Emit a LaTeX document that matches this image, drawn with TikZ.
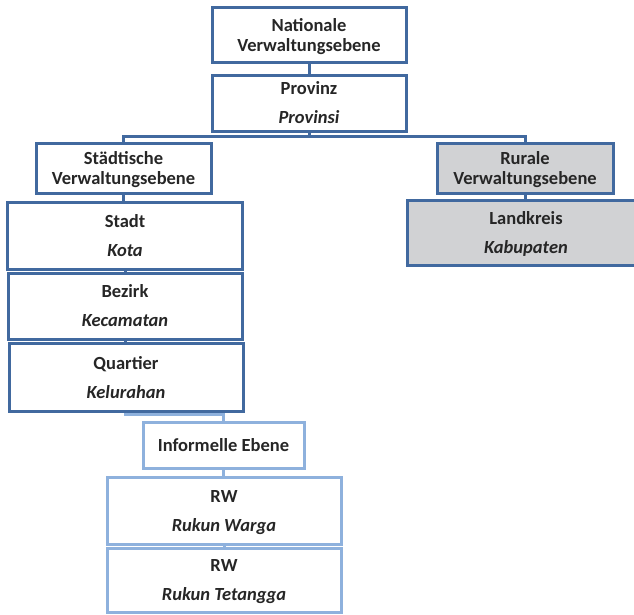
\documentclass[tikz,border=0pt]{standalone}
\usepackage{fontspec}
\setmainfont{Carlito}
\definecolor{dblue}{HTML}{41699F}
\definecolor{lblue}{HTML}{8EB1DD}
\definecolor{gfill}{HTML}{D1D2D4}
\definecolor{txt}{HTML}{262626}
\begin{document}
\begin{tikzpicture}[x=1pt,y=-1pt,
  basebox/.style={line width=3pt, fill=white, inner sep=0pt, align=center, text=txt, text depth=0pt},
  hdr/.style={basebox, draw=dblue, font=\fontsize{18.5}{20}\selectfont\bfseries},
  lvl/.style={basebox, draw=dblue, font=\fontsize{18.5}{29}\selectfont\bfseries},
  inflvl/.style={basebox, draw=lblue, font=\fontsize{18.5}{29}\selectfont\bfseries},
  infhdr/.style={basebox, draw=lblue, font=\fontsize{18.5}{20}\selectfont\bfseries},
  rural/.style={fill=gfill},
  dconn/.style={draw=dblue, line width=3pt},
  lconn/.style={draw=lblue, line width=3pt}]
\useasboundingbox (0,0) rectangle (634,614);
\clip (0,0) rectangle (634,614);

\node[hdr, minimum width=194pt, minimum height=55pt] (nat) at (309,34.5) {Nationale\\Verwaltungsebene};
\node[lvl, minimum width=194pt, minimum height=56pt] (prov) at (309,103) {Provinz\\\textit{Provinsi}};
\node[hdr, minimum width=175pt, minimum height=50pt] (stae) at (123.5,168) {Städtische\\Verwaltungsebene};
\node[hdr, rural, minimum width=176pt, minimum height=50pt] (rur) at (525,168) {Rurale\\Verwaltungsebene};
\node[lvl, rural, minimum width=238pt, minimum height=65pt] (land) at (526,232.5) {Landkreis\\\textit{Kabupaten}};
\node[lvl, minimum width=235pt, minimum height=67pt] (stadt) at (125,235.5) {Stadt\\\textit{Kota}};
\node[lvl, minimum width=234pt, minimum height=66pt] (bez) at (125,306) {Bezirk\\\textit{Kecamatan}};
\node[lvl, minimum width=234pt, minimum height=68pt] (quar) at (126,377) {Quartier\\\textit{Kelurahan}};
\node[infhdr, minimum width=161pt, minimum height=46pt] (inf) at (223.5,445) {Informelle Ebene};
\node[inflvl, minimum width=234pt, minimum height=67pt] (rw1) at (224,510.5) {RW\\\textit{Rukun Warga}};
\node[inflvl, minimum width=234pt, minimum height=64pt] (rw2) at (224,580) {RW\\\textit{Rukun Tetangga}};

\coordinate (br) at (309,136);
\coordinate (ib) at (125,414);

\draw[dconn] (nat.south) -- (prov.north);
\draw[dconn] (prov.south) -- (br);
\draw[dconn] (br) -| (stae.north);
\draw[dconn] (br) -| (rur.north);
\draw[dconn] (stae.south) -- (stae.south |- stadt.north);
\draw[dconn] (rur.south) -- (rur.south |- land.north);
\draw[dconn] (stadt.south) -- (bez.north);
\draw[dconn] (bez.south) -- (bez.south |- quar.north);
\draw[lconn] (ib |- quar.south) -- (ib) -| (inf.north);
\draw[lconn] (inf.south) -- (inf.south |- rw1.north);
\draw[lconn] (rw1.south) -- (rw2.north);
\end{tikzpicture}
\end{document}
